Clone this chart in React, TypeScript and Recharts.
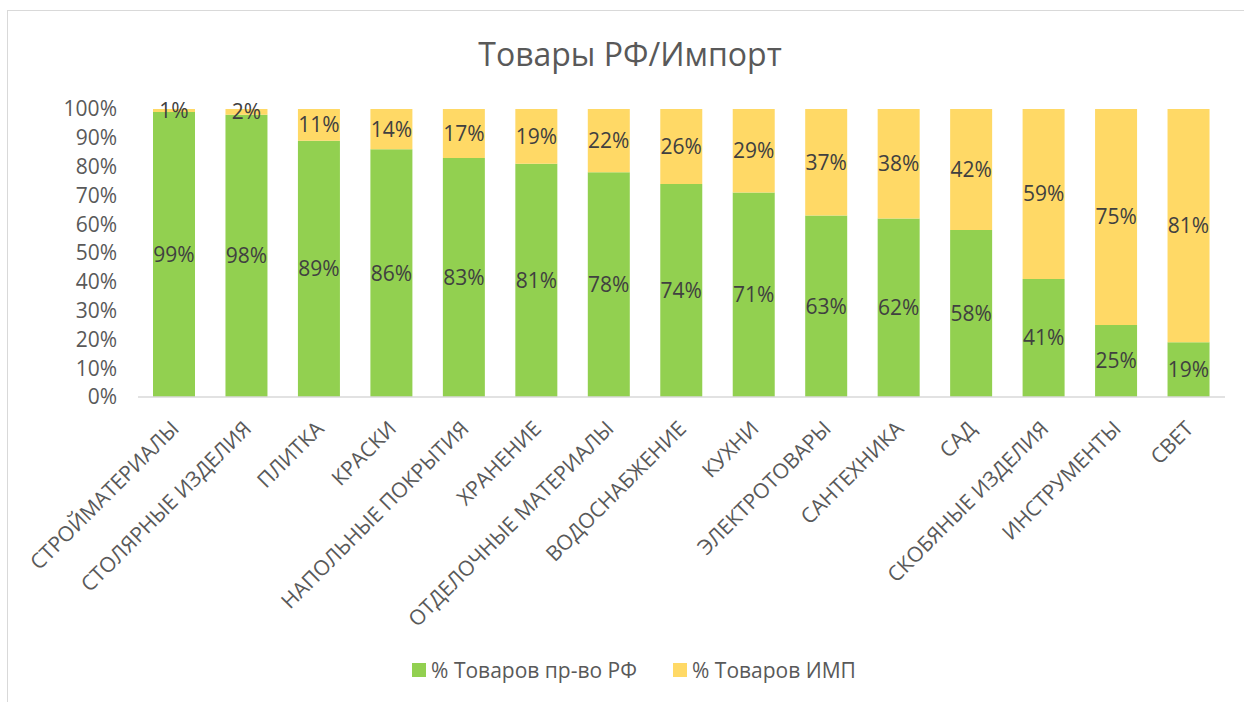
import { BarChart, Bar, XAxis, YAxis, Legend, LabelList } from 'recharts';

const categories = [
  'СТРОЙМАТЕРИАЛЫ',
  'СТОЛЯРНЫЕ ИЗДЕЛИЯ',
  'ПЛИТКА',
  'КРАСКИ',
  'НАПОЛЬНЫЕ ПОКРЫТИЯ',
  'ХРАНЕНИЕ',
  'ОТДЕЛОЧНЫЕ МАТЕРИАЛЫ',
  'ВОДОСНАБЖЕНИЕ',
  'КУХНИ',
  'ЭЛЕКТРОТОВАРЫ',
  'САНТЕХНИКА',
  'САД',
  'СКОБЯНЫЕ ИЗДЕЛИЯ',
  'ИНСТРУМЕНТЫ',
  'СВЕТ',
];
const rfShare = [99, 98, 89, 86, 83, 81, 78, 74, 71, 63, 62, 58, 41, 25, 19];
const importShare = [1, 2, 11, 14, 17, 19, 22, 26, 29, 37, 38, 42, 59, 75, 81];
const yTicks = [0, 10, 20, 30, 40, 50, 60, 70, 80, 90, 100];

const seriesNames = ['% Товаров пр-во РФ', '% Товаров ИМП'];
const GREEN = '#92d050';
const YELLOW = '#ffd966';
const FONT = '"Open Sans", sans-serif';

const data = categories.map((name, i) => ({ name, rf: rfShare[i], imp: importShare[i] }));

const XTick = (props: any) => {
  const { x, y, payload } = props;
  return (
    <g transform={`translate(${x + 6},${y + 25})`}>
      <text transform="rotate(-45)" textAnchor="end" fill="#595959" fontSize={21} fontFamily={FONT}>
        {payload.value}
      </text>
    </g>
  );
};

const LegendBox = () => (
  <div style={{ display: 'flex', justifyContent: 'center', alignItems: 'center', height: 30, paddingLeft: 24, fontFamily: FONT, fontSize: 21, color: '#595959' }}>
    {[GREEN, YELLOW].map((c, i) => (
      <div key={i} style={{ display: 'flex', alignItems: 'center', marginRight: i === 0 ? 36 : 0 }}>
        <span style={{ width: 14, height: 14, background: c, marginRight: 5, display: 'inline-block' }} />
        <span>{seriesNames[i]}</span>
      </div>
    ))}
  </div>
);

export default function App() {
  return (
    <div style={{ position: 'absolute', left: 0, top: 0, width: 1244, height: 702, background: '#fff' }}>
      <div style={{ position: 'absolute', left: 7, top: 10, width: 1237, height: 692, borderLeft: '1px solid #d9d9d9', borderTop: '1px solid #d9d9d9', boxSizing: 'border-box' }} />
      <div style={{ position: 'absolute', left: 0, top: 32, width: 1260, textAlign: 'center', fontFamily: FONT, fontSize: 32, color: '#595959' }}>
        Товары РФ/Импорт
      </div>
      <BarChart width={1244} height={702} data={data} margin={{ top: 109, right: 19, left: 58, bottom: 17 }} barSize={42}>
        <XAxis dataKey="name" interval={0} height={258} tick={<XTick />} tickLine={false} axisLine={{ stroke: '#d9d9d9', strokeWidth: 1.5 }} />
        <YAxis
          width={80}
          domain={[0, 100]}
          ticks={yTicks}
          interval={0}
          tickFormatter={(v) => `${v}%`}
          axisLine={false}
          tickLine={false}
          tickMargin={15}
          tick={{ fill: '#595959', fontSize: 21, fontFamily: FONT }}
        />
        <Legend verticalAlign="bottom" content={<LegendBox />} wrapperStyle={{ left: 0, width: 1244 }} />
        <Bar dataKey="rf" stackId="a" fill={GREEN} isAnimationActive={false}>
          <LabelList dataKey="rf" position="center" formatter={(v: any) => `${v}%`} fill="#404040" fontSize={21} fontFamily={FONT} />
        </Bar>
        <Bar dataKey="imp" stackId="a" fill={YELLOW} isAnimationActive={false}>
          <LabelList dataKey="imp" position="center" formatter={(v: any) => `${v}%`} fill="#404040" fontSize={21} fontFamily={FONT} />
        </Bar>
      </BarChart>
    </div>
  );
}
